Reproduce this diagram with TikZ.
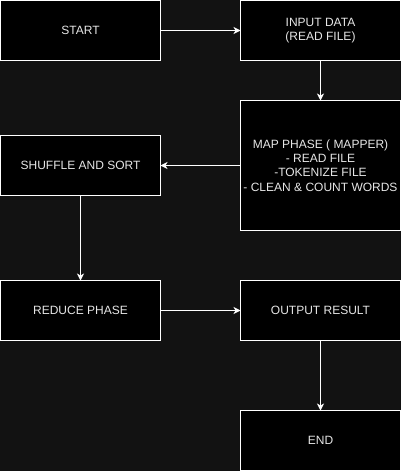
\documentclass[tikz,border=0pt]{standalone}
\usepackage{fontspec}
\setmainfont{Liberation Sans}
\usetikzlibrary{arrows.meta}
\definecolor{bgc}{HTML}{121212}
\definecolor{txc}{HTML}{E6E6E6}
\begin{document}
\begin{tikzpicture}[x=1pt,y=-1pt,
  box/.style={draw=white,fill=black,line width=1pt,minimum width=160pt,minimum height=60pt,
    inner sep=0pt,outer sep=0pt,align=center,text=txc,font=\fontsize{12pt}{14.4pt}\selectfont},
  conn/.style={draw=white,line width=1pt,-{Stealth[length=7pt,width=7pt,inset=2pt]}}]
\useasboundingbox[fill=bgc] (0,0) rectangle (401,471);
\node[box] (start) at (80.5,30.5) {START};
\node[box] (input) at (320.5,30.5) {INPUT DATA\\(READ FILE)};
\node[box,minimum height=130pt] (map) at (320.5,165.5) {MAP PHASE ( MAPPER)\\- READ FILE\\-TOKENIZE FILE\\- CLEAN \& COUNT WORDS};
\node[box] (shuffle) at (80.5,165.5) {SHUFFLE AND SORT};
\node[box] (reduce) at (80.5,310.5) {REDUCE PHASE};
\node[box] (output) at (320.5,310.5) {OUTPUT RESULT};
\node[box] (end) at (320.5,440.5) {END};
\draw[conn] (start) -- (input);
\draw[conn] (input) -- (map);
\draw[conn] (map) -- (shuffle);
\draw[conn] (shuffle) -- (reduce);
\draw[conn] (reduce) -- (output);
\draw[conn] (output) -- (end);
\end{tikzpicture}
\end{document}
